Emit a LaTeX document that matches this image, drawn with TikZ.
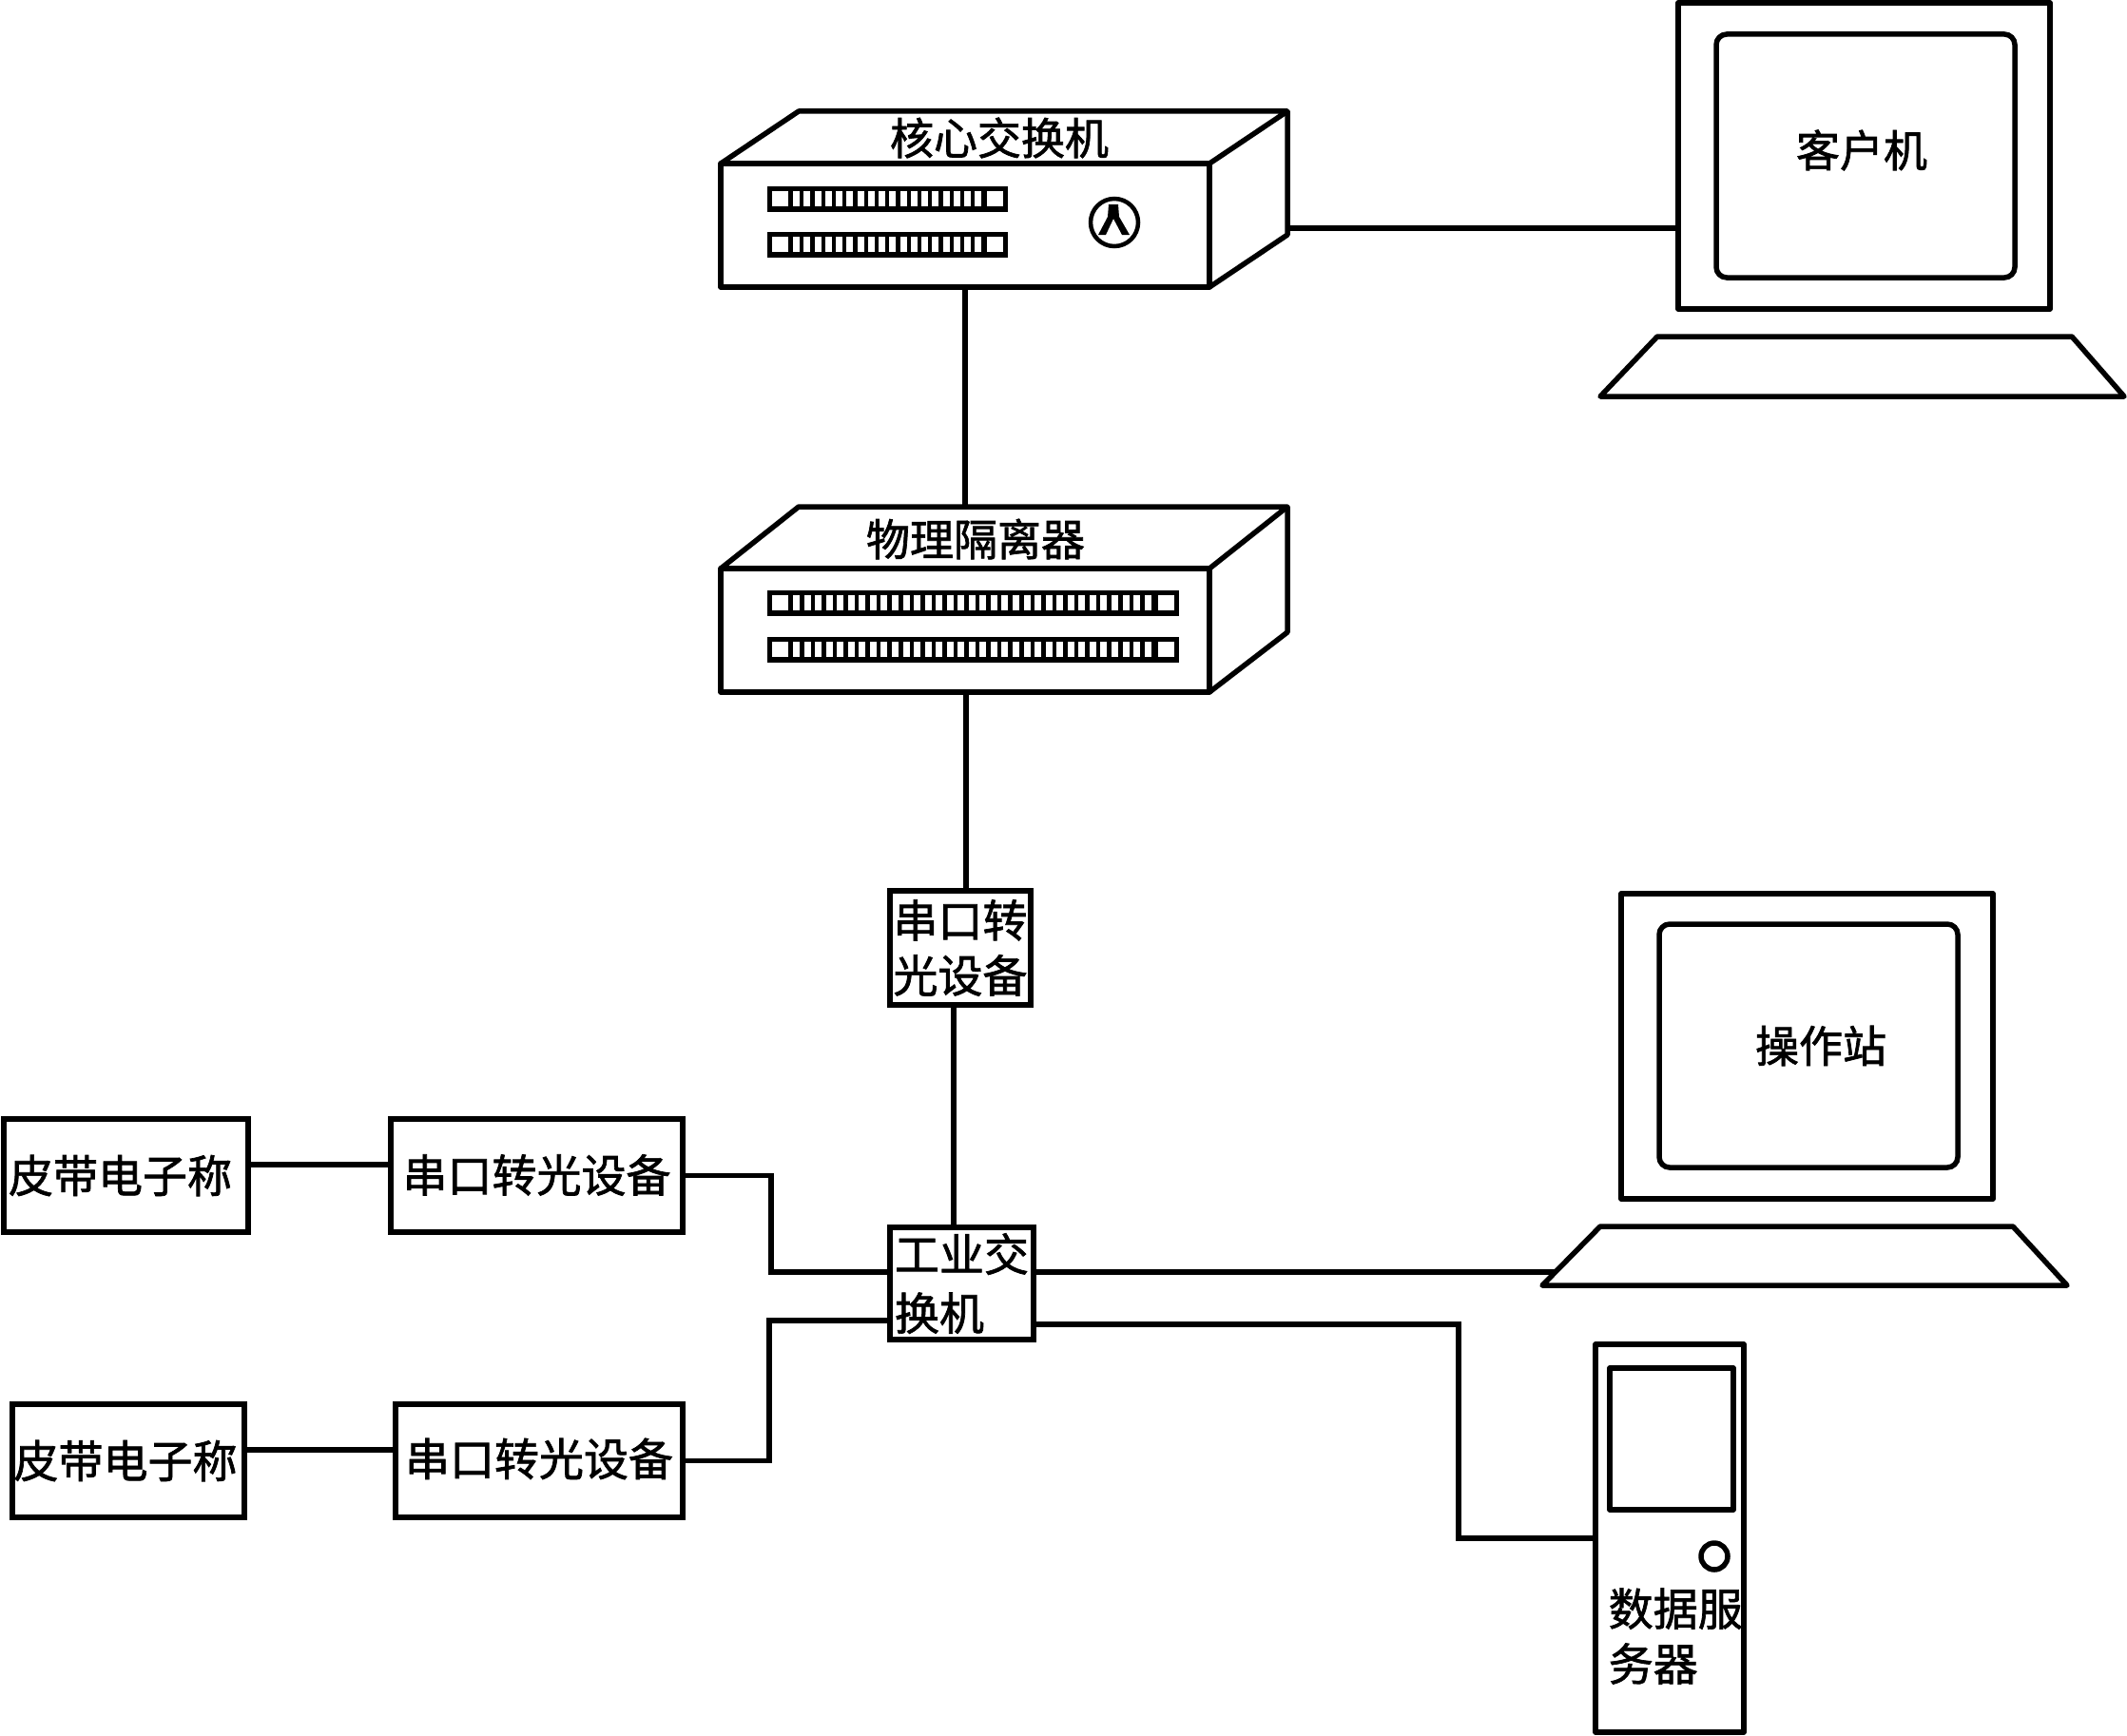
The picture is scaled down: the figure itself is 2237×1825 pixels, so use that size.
\documentclass[tikz,border=0pt]{standalone}
\usepackage{fontspec}
\setmainfont[FakeBold=1.5]{Noto Sans CJK SC}
\usetikzlibrary{positioning}

\tikzset{
  wire/.style={line width=5.5pt,line join=miter},
  outline/.style={draw,line width=5.5pt,line join=round},
  devbox/.style={draw,line width=5.5pt,inner sep=0pt,align=left,
    font=\fontsize{47}{58}\selectfont},
  screen/.style={draw,line width=5.5pt,rounded corners=11pt,inner sep=0pt},
  label/.style={inner sep=0pt,font=\fontsize{46}{58}\selectfont},
}

% one row of ports: x from, x to, y top, pitch, last bar index
\newcommand{\portrow}[5]{
  \fill (#1,#3) rectangle (#2,#3+27);
  \fill[white] (#1+5,#3+5) rectangle +(17,16);
  \fill[white] (#2-22,#3+5) rectangle +(17,16);
  \foreach \i in {0,...,#5}
    \fill[white] ({#1+27+\i*#4},#3+5) rectangle +(7,16);
}

\begin{document}
\begin{tikzpicture}[x=1pt,y=-1pt]
  \useasboundingbox (0,0) rectangle (2237,1825);

  % core switch
  \node[outline,minimum width=514pt,minimum height=130pt] (core) at (1015,237) {};
  \draw[outline] (758,172) -- (840,117) -- (1354,117) -- (1272,172);
  \draw[outline] (1272,302) -- (1354,247) -- (1354,117);
  \node[label] (corename) at (1051,145) {核心交换机};
  \portrow{807}{1060}{196}{11.25}{17}
  \portrow{807}{1060}{244}{11.25}{17}
  \node[draw,circle,line width=4.5pt,minimum size=50pt,inner sep=0pt] (coreicon) at (1172,234) {};
  \fill (1166,215) -- (1176,215) -- (1177,228) -- (1188,247) -- (1180,247)
    -- (1171,230) -- (1163,247) -- (1155,247) -- (1165,228) -- cycle;

  % physical isolator
  \node[outline,minimum width=514pt,minimum height=130pt] (isolator) at (1015,663) {};
  \draw[outline] (758,598) -- (840,533) -- (1354,533) -- (1272,598);
  \draw[outline] (1272,728) -- (1354,665) -- (1354,533);
  \node[label] (isolatorname) at (1026,567) {物理隔离器};
  \portrow{807}{1240}{621}{11.55}{32}
  \portrow{807}{1240}{670}{11.55}{32}

  % client computer
  \node[outline,minimum width=391pt,minimum height=322pt] (clientpc) at (1960.5,164) {};
  \node[screen,minimum width=314pt,minimum height=256pt] (clientscreen) at (1962,164) {};
  \node[label] (clientname) at (1958,158) {客户机};
  \draw[outline] (1743,354) -- (2179,354) -- (2234,417) -- (1683,417) -- cycle;

  % operator station
  \node[outline,minimum width=391pt,minimum height=321pt] (stationpc) at (1900.5,1100.5) {};
  \node[screen,minimum width=314pt,minimum height=256pt] (stationscreen) at (1902,1100) {};
  \node[label] (stationname) at (1915,1100) {操作站};
  \draw[outline] (1683,1290) -- (2117,1290) -- (2174,1352) -- (1622,1352) -- cycle;

  % data server
  \node[outline,minimum width=156pt,minimum height=408pt] (server) at (1756,1618) {};
  \node[outline,minimum width=130pt,minimum height=149pt] (serverscreen) at (1758,1513.5) {};
  \node[draw,circle,line width=5.5pt,minimum size=28pt,inner sep=0pt] (serverlamp) at (1803,1637) {};
  \node[devbox,draw=none,anchor=west,font=\fontsize{47}{58}\selectfont] (servername) at (1689,1721) {数据服\\务器};

  % boxes
  \node[devbox,minimum width=148pt,minimum height=120pt] (fiberup) at (1010,997) {串口转\\光设备};
  \node[devbox,minimum width=151pt,minimum height=118pt,font=\fontsize{47}{62}\selectfont] (switch) at (1011.5,1350) {工业交\\换机};
  \node[devbox,minimum width=257pt,minimum height=119pt] (belta) at (132.5,1236.5) {\raisebox{3pt}{皮带电子称}\kern12pt};
  \node[devbox,minimum width=307pt,minimum height=119pt] (fibera) at (564.5,1236.5) {\raisebox{5pt}{串口转光设备}};
  \node[devbox,minimum width=244pt,minimum height=119pt] (beltb) at (135,1536.5) {\raisebox{3pt}{皮带电子称}\kern6pt};
  \node[devbox,minimum width=302pt,minimum height=119pt] (fiberb) at (567,1536.5) {\raisebox{8pt}{串口转光设备}};

  % connector ends that are not on a box
  \coordinate (coreport) at (1354,240);
  \coordinate (isolatortop) at (1015,533);
  \coordinate (isolatorout) at (1016,728);
  \coordinate (fiberupin) at (1016,937);
  \coordinate (switchup) at (1003,1291);
  \coordinate (fiberupout) at (1003,1057);
  \coordinate (upknee) at (811,1338);
  \coordinate (lowknee) at (809,1389);
  \coordinate (serverknee) at (1534,1618);
  \coordinate (stationkey) at (1636,1338);

  % connectors
  \draw[wire] (coreport) -- (clientpc.west |- coreport);
  \draw[wire] (core.south) -- (isolatortop);
  \draw[wire] (isolatorout) -- (fiberupin);
  \draw[wire] (fiberupout) -- (switchup);
  \draw[wire] ([yshift=11.5pt]belta.east) -- ([yshift=11.5pt]fibera.west);
  \draw[wire] ([yshift=11.5pt]beltb.east) -- ([yshift=11.5pt]fiberb.west);
  \draw[wire] (fibera.east) -| (upknee) -- ([yshift=12pt]switch.west);
  \draw[wire] (fiberb.east) -| (lowknee) -- ([yshift=-39pt]switch.west);
  \draw[wire] ([yshift=12pt]switch.east) -- (stationkey);
  \draw[wire] ([yshift=-43pt]switch.east) -| (serverknee) -- (server.west);
\end{tikzpicture}
\end{document}
